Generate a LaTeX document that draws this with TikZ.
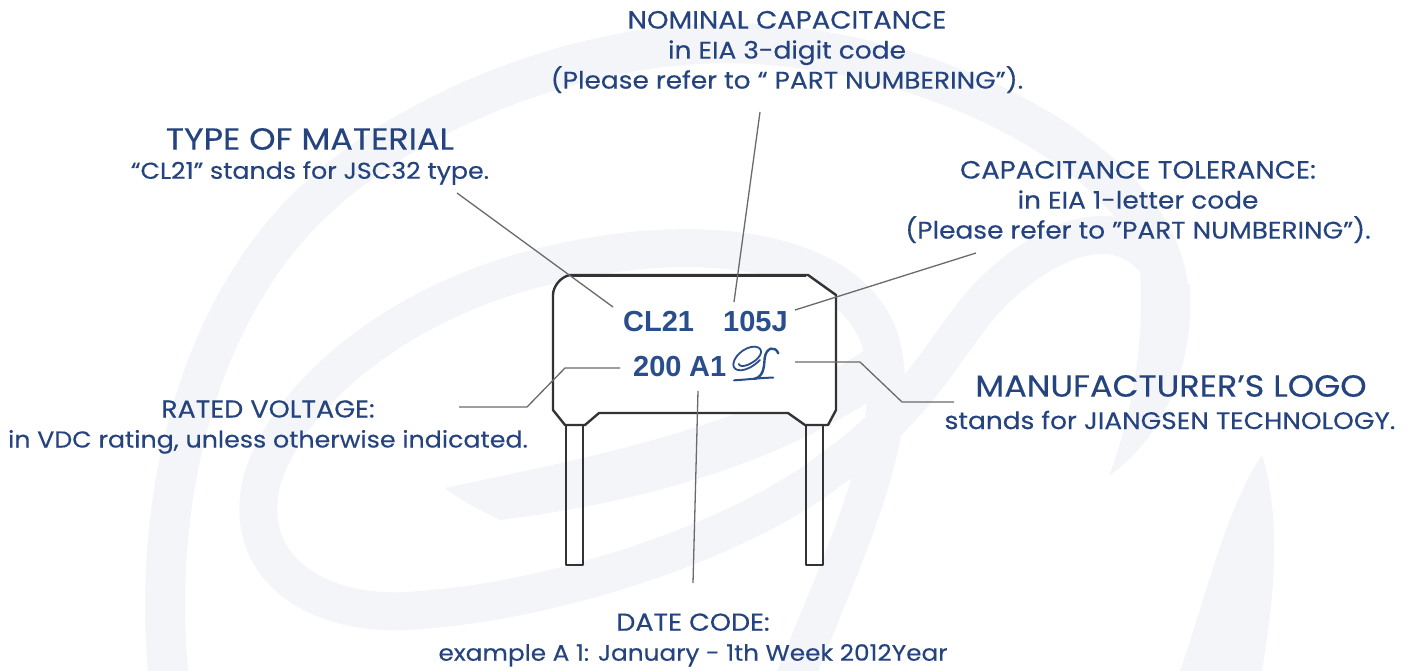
\documentclass[tikz,border=0pt]{standalone}
\usepackage{fontspec}
\setmainfont[FakeStretch=1.1,FakeBold=0.35]{Poppins}
\newfontfamily\arialf{Liberation Sans}
\definecolor{wm}{HTML}{F4F5F8}
\definecolor{ink}{HTML}{24437F}
\definecolor{mark}{HTML}{2A4E8C}
\definecolor{lead}{HTML}{6A6A6A}
\definecolor{body}{HTML}{333333}
\newcommand{\fs}[1]{\fontsize{#1}{30}\selectfont}
\tikzset{
  band/.style={draw=wm,line width=#1,line cap=round,line join=round},
  label/.style={text=ink,align=center,inner sep=0pt,font=\fs{24}},
  headline/.style={text=ink,inner sep=0pt,font=\fs{30.5}},
  code/.style={text=mark,inner sep=0pt,font=\arialf\bfseries\fontsize{29}{30}\selectfont},
  callout/.style={draw=lead,line width=1.3pt},
  outline/.style={draw=body,line width=2.4pt,line join=round}
}
\begin{document}
\begin{tikzpicture}[x=1pt,y=-1pt]
\useasboundingbox (0,0) rectangle (1413,671);
% watermark
\draw[band=40pt] (170,690) .. controls (150,520) and (190,330) .. (300,215)
   .. controls (400,110) and (600,30) .. (770,45)
   .. controls (960,60) and (1160,170) .. (1168,290);
\draw[band=38pt] (790,690) .. controls (850,540) and (905,430) .. (880,340)
   .. controls (850,250) and (700,225) .. (530,270)
   .. controls (400,305) and (290,390) .. (262,480)
   .. controls (240,570) and (320,620) .. (420,610)
   .. controls (560,600) and (740,540) .. (830,470)
   .. controls (930,400) and (950,330) .. (1000,285)
   .. controls (1050,240) and (1110,215) .. (1150,255);
\fill[wm] (445,488) .. controls (600,455) and (760,425) .. (880,340)
   -- (900,380) .. controls (780,470) and (620,505) .. (500,520) .. controls (480,510) and (460,500) .. cycle;
\fill[wm] (1190,285) .. controls (1195,370) and (1160,440) .. (1109,476)
   .. controls (1130,420) and (1145,350) .. (1140,270) -- cycle;
\fill[wm] (1262,455) .. controls (1285,530) and (1270,620) .. (1262,671)
   -- (1180,671) .. controls (1205,600) and (1225,510) .. cycle;
% capacitor
\draw[outline] (566,425) -- (566,565) -- (583,565) -- (583,425);
\draw[outline] (806,425) -- (806,565) -- (823,565) -- (823,425);
\draw[outline,fill=white] (570,275) -- (808,275) -- (836,295) -- (836,410) -- (828,425) -- (805,425)
  -- (788,413) -- (599,413) -- (585,425) -- (565,425) -- (553,410) -- (553,295)
  .. controls (553,287) and (560,277) .. (570,275) -- cycle;
\draw[draw=body,line width=3pt] (572,275) -- (806,275);
% printed marks
\node[code,anchor=west] (cl) at (623,322) {CL21};
\node[code,anchor=west] (num) at (723,322) {105J};
\node[code,anchor=west] (volt) at (633,367) {200};
\node[code,anchor=west] (date) at (689,367) {A1};
\begin{scope}[shift={(530,260)},x=0.3333pt,y=-0.3333pt,draw=mark,line width=1.8pt,line cap=round]
  \draw (690,300) .. controls (650,340) and (608,338) .. (610,312)
     .. controls (614,280) and (660,252) .. (684,262)
     .. controls (704,272) and (690,298) .. (655,314)
     .. controls (640,320) and (630,320) .. (626,312);
  \draw[line width=2.4pt] (745,280) .. controls (735,256) and (708,262) .. (704,295)
     .. controls (702,325) and (700,350) .. (672,357);
  \draw[line width=2pt] (612,361) .. controls (650,359) and (695,353) .. (730,353);
\end{scope}
% text
\node[label] (nomtext) at (787,52) {\fs{25}NOMINAL CAPACITANCE\\\fs{24}in EIA 3-digit code\\(Please refer to “ PART NUMBERING”).};
\node[headline] (typetitle) at (310,139) {TYPE OF MATERIAL};
\node[label,font=\fs{23}] (typetext) at (310,173) {“CL21” stands for JSC32 type.};
\node[label] (toltext) at (1138,202) {\fs{25}CAPACITANCE TOLERANCE:\\\fs{24}in EIA 1-letter code\\(Please refer to "PART NUMBERING").};
\node[headline] (logotitle) at (1171,386) {MANUFACTURER’S LOGO};
\node[label,font=\fs{24}] (logotext) at (1170,420) {stands for JIANGSEN TECHNOLOGY.};
\node[label] (volttext) at (268,427) {\fs{24.5}RATED VOLTAGE:\\\fs{23}in VDC rating, unless otherwise indicated.};
\node[label] (datetext) at (693,640) {\fs{24.5}DATE CODE:\\\fs{22.5}example A 1: January - 1th Week 2012Year};
% connectors
\coordinate (typeEnd) at (457,193);
\coordinate (typeTip) at (613,307);
\coordinate (nomEnd) at (760,112);
\coordinate (nomTip) at (734,302);
\coordinate (tolEnd) at (976,253);
\coordinate (tolTip) at (795,310);
\coordinate (voltEnd) at (459,407);
\coordinate (voltA) at (527,407);
\coordinate (voltB) at (565,368);
\coordinate (voltTip) at (620,368);
\coordinate (logoEnd) at (954,402);
\coordinate (logoA) at (902,402);
\coordinate (logoB) at (860,362);
\coordinate (logoTip) at (795,362);
\coordinate (dateTip) at (698,391);
\coordinate (dateEnd) at (693,583);
\draw[callout] (typeEnd) -- (typeTip);
\draw[callout] (nomEnd) -- (nomTip);
\draw[callout] (tolEnd) -- (tolTip);
\draw[callout] (voltEnd) -- (voltA) -- (voltB) -- (voltTip);
\draw[callout] (logoEnd) -- (logoA) -- (logoB) -- (logoTip);
\draw[callout] (dateTip) -- (dateEnd);
\end{tikzpicture}
\end{document}
